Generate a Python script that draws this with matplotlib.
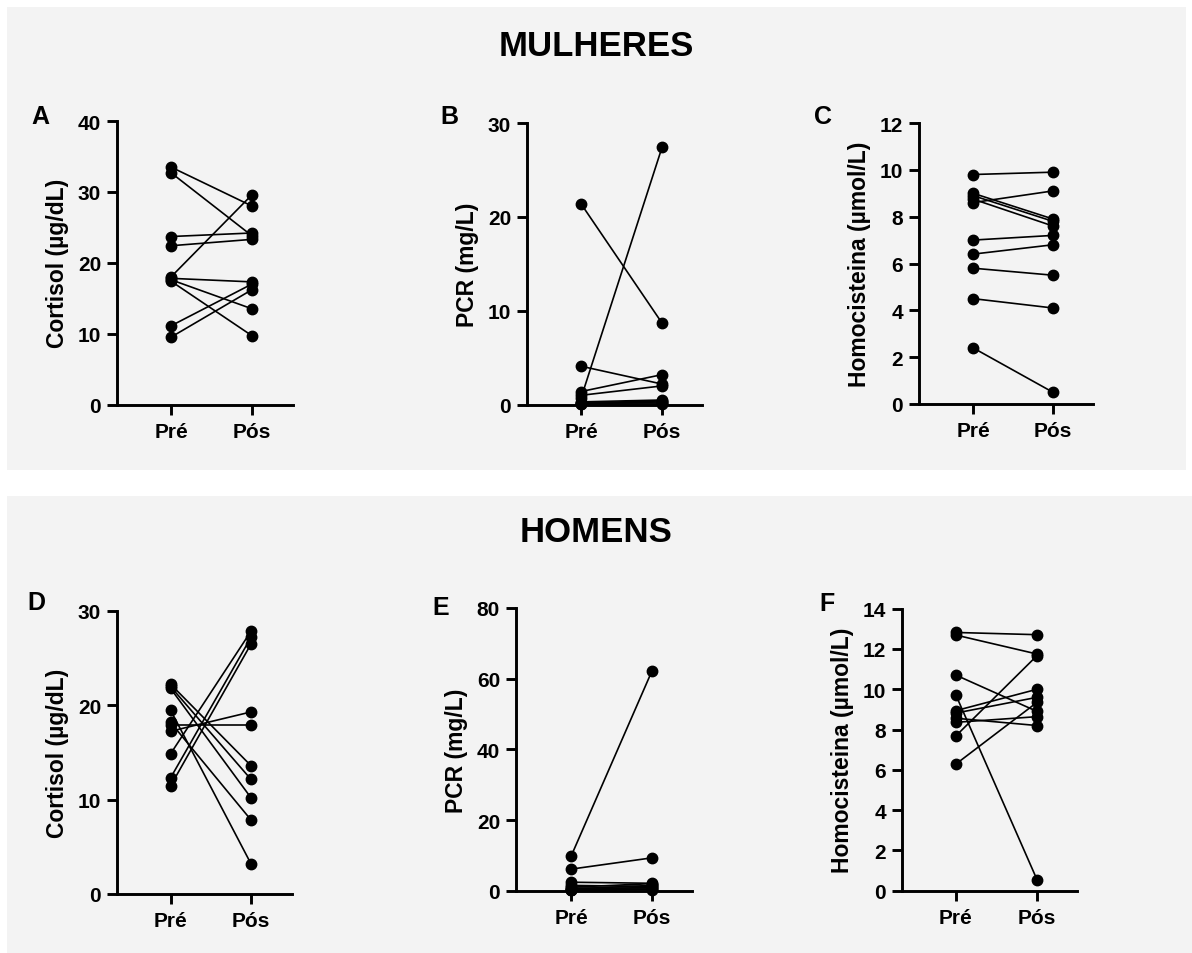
import matplotlib.pyplot as plt
from matplotlib.patches import Rectangle

plt.rcParams['font.family'] = ['Liberation Sans', 'DejaVu Sans']
plt.rcParams['font.weight'] = 'bold'

groups = ['Pré', 'Pós']

# MULHERES
cortisol_w_pre = [33.5, 32.7, 23.7, 22.4, 18.0, 17.8, 17.6, 17.4, 11.1, 9.5]
cortisol_w_pos = [28.0, 23.8, 24.2, 23.3, 29.6, 17.3, 13.5, 9.7, 17.0, 16.2]
pcr_w_pre = [21.4, 4.1, 1.4, 1.0, 0.7, 0.3, 0.2, 0.1, 0.2, 0.1]
pcr_w_pos = [8.7, 2.2, 3.2, 2.0, 27.4, 0.5, 0.4, 0.3, 0.2, 0.1]
homo_w_pre = [9.8, 8.6, 9.0, 8.9, 8.75, 7.0, 6.4, 5.8, 4.5, 2.4]
homo_w_pos = [9.9, 9.1, 7.9, 7.8, 7.6, 7.2, 6.8, 5.5, 4.1, 0.5]

# HOMENS
cortisol_m_pre = [22.25, 22.0, 21.8, 19.5, 18.2, 17.95, 17.25, 14.85, 12.3, 11.45]
cortisol_m_pos = [13.6, 12.15, 10.2, 3.2, 7.85, 17.95, 19.3, 27.85, 27.2, 26.5]
pcr_m_pre = [9.7, 6.1, 2.4, 1.5, 1.0, 0.8, 0.5, 0.3, 0.2, 0.1]
pcr_m_pos = [62.2, 9.3, 2.1, 1.2, 2.0, 0.8, 1.5, 0.5, 1.0, 0.3]
homo_m_pre = [12.82, 12.69, 10.7, 9.7, 8.94, 8.82, 8.56, 8.36, 7.69, 6.29]
homo_m_pos = [12.71, 11.75, 8.9, 0.55, 10.0, 9.6, 8.2, 8.64, 11.67, 9.35]

W, H = 1192, 954
fig = plt.figure(figsize=(W / 100, H / 100), dpi=100, facecolor='white')

# gray background blocks
fig.patches.append(Rectangle((7 / W, 1 - 471 / H), 1179 / W, 463 / H,
                             transform=fig.transFigure, facecolor='#f3f3f3',
                             edgecolor='none', zorder=-10))
fig.patches.append(Rectangle((7 / W, 0), 1185 / W, 1 - 497 / H,
                             transform=fig.transFigure, facecolor='#f3f3f3',
                             edgecolor='none', zorder=-10))


def panel(left, top, bottom, pre, pos, right, pre_vals, pos_vals,
          ymax, ystep, ylabel, letter, letter_xy):
    ax = fig.add_axes([left / W, 1 - bottom / H, (right - left) / W, (bottom - top) / H])
    ax.set_facecolor('none')
    sp = pos - pre
    ax.set_xlim(-(pre - left) / sp, (right - pre) / sp)
    ax.set_ylim(0, ymax)
    for a, b in zip(pre_vals, pos_vals):
        ax.plot([0, 1], [a, b], color='black', lw=1.2, marker='o', ms=7.5,
                clip_on=False, zorder=3)
    ax.set_yticks(range(0, ymax + 1, ystep))
    ax.set_xticks([0, 1])
    ax.set_xticklabels(groups)
    for s in ['top', 'right']:
        ax.spines[s].set_visible(False)
    for s in ['left', 'bottom']:
        ax.spines[s].set_linewidth(2.1)
    ax.tick_params(axis='both', width=2.1, length=7.5, labelsize=15, pad=4)
    ax.tick_params(axis='x', pad=5)
    for t in ax.get_xticklabels() + ax.get_yticklabels():
        t.set_fontweight('bold')
    ax.set_ylabel(ylabel, fontsize=16.5, fontweight='bold', labelpad=6)
    fig.text(letter_xy[0] / W, 1 - letter_xy[1] / H, letter, fontsize=18,
             fontweight='bold', ha='left', va='center')
    return ax


panel(117, 122, 405.5, 171, 252, 293, cortisol_w_pre, cortisol_w_pos,
      40, 10, 'Cortisol (µg/dL)', 'A', (31, 117))
panel(527, 124, 405.7, 581, 662, 702, pcr_w_pre, pcr_w_pos,
      30, 10, 'PCR (mg/L)', 'B', (440, 117))
panel(919, 124, 405, 973, 1053, 1093, homo_w_pre, homo_w_pos,
      12, 2, 'Homocisteina (µmol/L)', 'C', (814, 117))
panel(117, 612, 895, 170.5, 251, 292, cortisol_m_pre, cortisol_m_pos,
      30, 10, 'Cortisol (µg/dL)', 'D', (27, 603))
panel(516, 609, 891.7, 571, 652, 692, pcr_m_pre, pcr_m_pos,
      80, 20, 'PCR (mg/L)', 'E', (432, 608))
panel(902, 609.7, 891.7, 956, 1037, 1077, homo_m_pre, homo_m_pos,
      14, 2, 'Homocisteina (µmol/L)', 'F', (819, 604))

fig.text(596 / W, 1 - 46 / H, 'MULHERES', fontsize=25, fontweight='bold',
         ha='center', va='center')
fig.text(596 / W, 1 - 533 / H, 'HOMENS', fontsize=25, fontweight='bold',
         ha='center', va='center')

fig.savefig('out.png', dpi=100, facecolor='white')
